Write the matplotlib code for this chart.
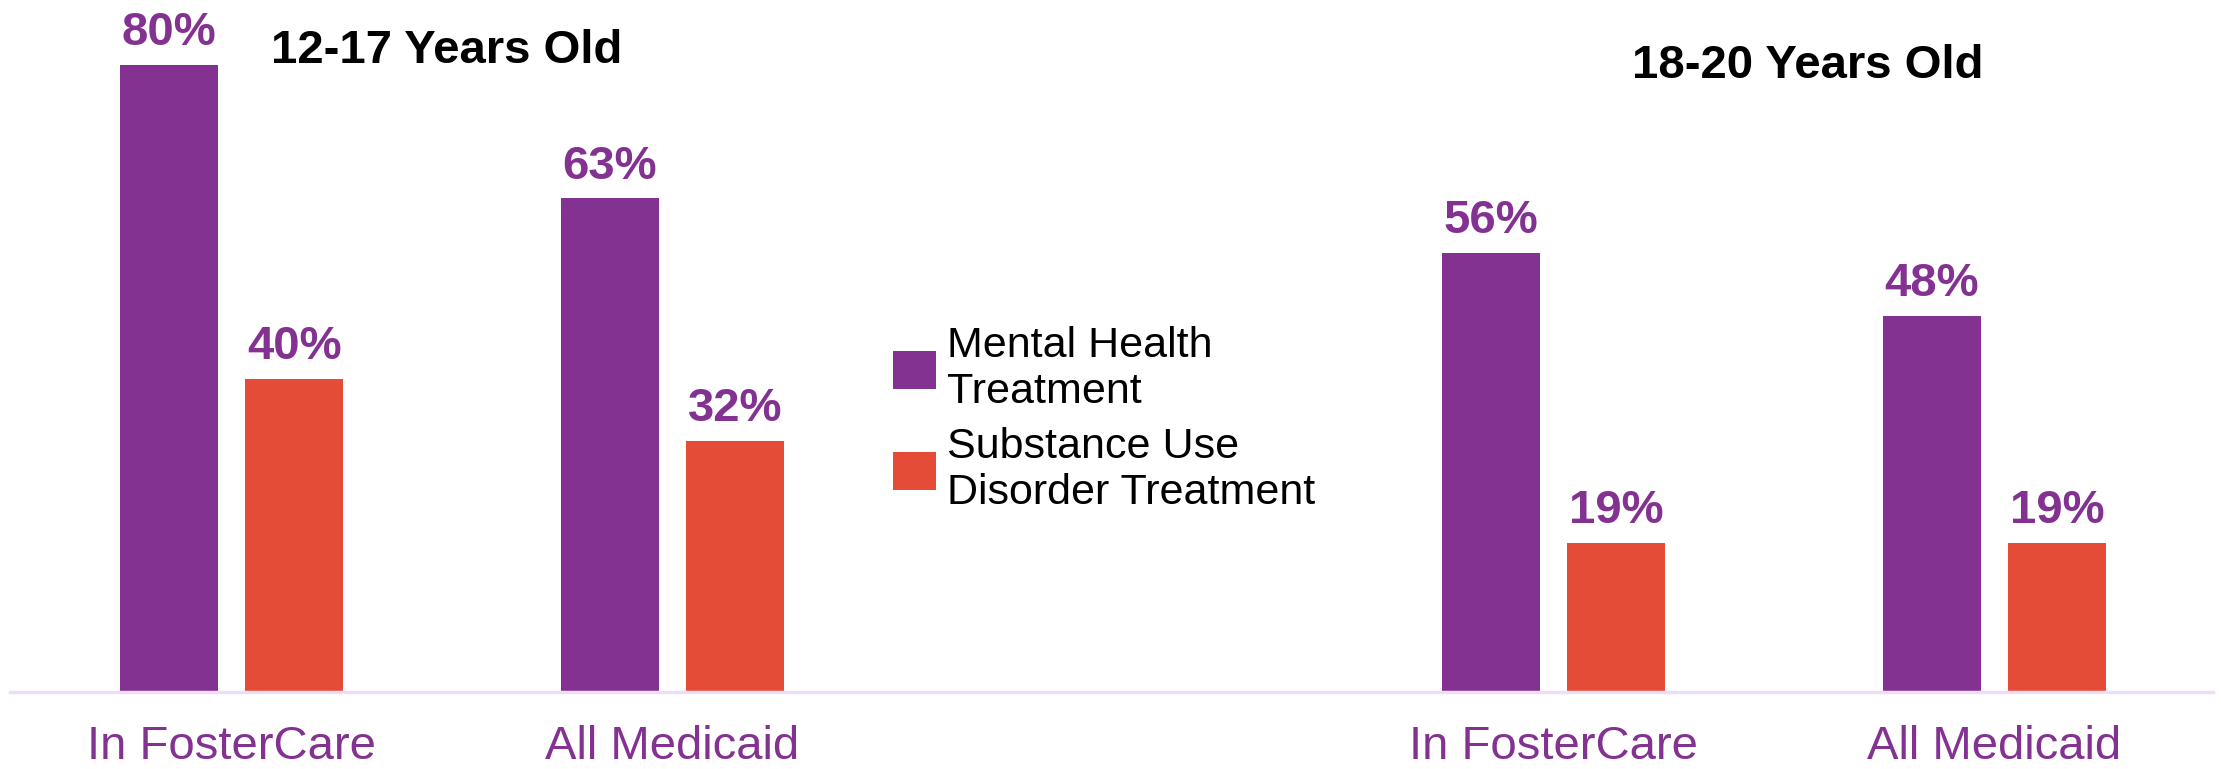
import matplotlib
matplotlib.use("Agg")
import matplotlib.pyplot as plt
import numpy as np

plt.rcParams['font.family'] = ['Liberation Sans', 'DejaVu Sans']

# data
categories = ['In FosterCare', 'All Medicaid', 'In FosterCare', 'All Medicaid']
positions = [0, 1, 3, 4]          # slot 2 left empty for the legend
mental_health = [80, 63, 56, 48]
substance_use = [40, 32, 19, 19]
series_names = ['Mental Health\nTreatment', 'Substance Use\nDisorder Treatment']
group_titles = ['12-17 Years Old', '18-20 Years Old']

PURPLE = '#843292'
ORANGE = '#E44C37'

fig = plt.figure(figsize=(22.21, 7.69), dpi=100)
ax = fig.add_axes([10 / 2221, 77 / 769, 2203 / 2221, 692 / 769])

x = np.array(positions, dtype=float)
w = 0.222
off = 0.142
b1 = ax.bar(x - off, mental_health, w, color=PURPLE, label=series_names[0])
b2 = ax.bar(x + off, substance_use, w, color=ORANGE, label=series_names[1])

for bars in (b1, b2):
    ax.bar_label(bars, labels=[f'{v}%' for v in bars.datavalues], padding=7,
                 color=PURPLE, fontsize=34, fontweight='bold')

ax.set_xlim(-0.5026, 4.4957)
ax.set_ylim(0, 88.3)
ax.set_xticks(x)
ax.set_xticklabels(categories, fontsize=34, color=PURPLE)
ax.tick_params(axis='x', length=0, pad=24)
ax.set_yticks([])
for s in ('top', 'left', 'right'):
    ax.spines[s].set_visible(False)
ax.spines['bottom'].set_color('#EEDDF6')
ax.spines['bottom'].set_linewidth(2.5)

fig.text(447 / 2221, 1 - 63 / 769, group_titles[0], ha='center', va='baseline',
         fontsize=34, fontweight='bold', color='black')
fig.text(1808 / 2221, 1 - 78 / 769, group_titles[1], ha='center', va='baseline',
         fontsize=34, fontweight='bold', color='black')

fig.legend(handles=[b1, b2], loc='upper left', bbox_to_anchor=(893 / 2221, 1 - 326 / 769),
           frameon=False, fontsize=31, handlelength=1.0, handleheight=1.0,
           handletextpad=0.26, labelspacing=0.35, borderpad=0, borderaxespad=0)

fig.savefig('out.png', dpi=100)
